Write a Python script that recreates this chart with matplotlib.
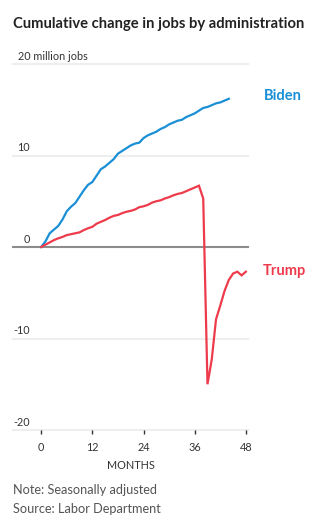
import matplotlib.pyplot as plt
import matplotlib.transforms as mtransforms

# Cumulative change in jobs, millions, by month since inauguration
biden_jobs = [0, 0.6, 1.5, 1.9, 2.3, 3.0, 3.9, 4.4, 4.8, 5.5, 6.2, 6.8, 7.1,
              7.8, 8.5, 8.8, 9.2, 9.6, 10.2, 10.5, 10.8, 11.1, 11.3, 11.4,
              11.9, 12.2, 12.4, 12.6, 12.9, 13.1, 13.4, 13.6, 13.8, 13.9,
              14.2, 14.4, 14.6, 14.9, 15.2, 15.3, 15.5, 15.7, 15.8, 16.0, 16.2]
trump_jobs = [0, 0.25, 0.5, 0.75, 0.95, 1.1, 1.3, 1.4, 1.5, 1.6, 1.85, 2.05,
              2.2, 2.55, 2.75, 2.95, 3.2, 3.4, 3.5, 3.7, 3.85, 3.95, 4.1,
              4.35, 4.45, 4.6, 4.85, 5.0, 5.1, 5.3, 5.45, 5.65, 5.8, 5.9,
              6.1, 6.3, 6.5, 6.7, 5.3, -15.0, -12.3, -7.9, -6.4, -4.8, -3.6,
              -2.9, -2.7, -3.1, -2.7]
biden_months = list(range(len(biden_jobs)))
trump_months = list(range(len(trump_jobs)))

x_ticks = [0, 12, 24, 36, 48]
y_ticks = [20, 10, 0, -10, -20]

blue = '#1a8fd6'
red = '#ee3b4b'
font = 'Lato'

W, H = 326, 524
fig = plt.figure(figsize=(W / 100, H / 100), dpi=100)
ax = fig.add_axes([13 / W, 1 - 430 / H, 235 / W, 366 / H])
ax.set_xlim(-6.6, 48.5)
ax.set_ylim(-20, 20)
for s in ax.spines.values():
    s.set_visible(False)

# gridlines, zero line darker
for y in y_ticks:
    if y == 0:
        ax.axhline(y, color='#8c8c8c', lw=1.5, zorder=1, clip_on=False)
    else:
        ax.axhline(y, color='#eeeeee', lw=1.5, zorder=0, clip_on=False)

ax.plot(trump_months, trump_jobs, color=red, lw=1.6, zorder=3,
        solid_joinstyle='miter')
ax.plot(biden_months, biden_jobs, color=blue, lw=1.6, zorder=2)

# y labels sit above the gridlines
trans = mtransforms.blended_transform_factory(fig.transFigure, ax.transData)
for y in y_ticks:
    if y == 20:
        ax.text(18 / W, y + 0.25, '20 million jobs', transform=trans,
                ha='left', va='bottom', fontsize=7.8, color='#333333',
                family=font)
    else:
        ax.text(30 / W, y + 0.25, f'{y}', transform=trans, ha='right',
                va='bottom', fontsize=7.8, color='#333333', family=font)

ax.set_yticks([])
ax.set_xticks(x_ticks)
ax.set_xticklabels([str(t) for t in x_ticks], family=font, fontsize=7.8,
                   color='#333333')
ax.tick_params(axis='x', length=3, width=1, color='#333333', pad=5.5)
ax.set_xlabel('MONTHS', family=font, fontsize=7.8, color='#333333',
              labelpad=5)

# series labels
ax.text(264 / W, 16.5, 'Biden', transform=trans, color=blue,
        fontsize=10.5, fontweight='bold', family=font, va='center')
ax.text(263 / W, -2.6, 'Trump', transform=trans, color=red,
        fontsize=10.5, fontweight='bold', family=font, va='center')

fig.text(13 / W, 1 - 24 / H, 'Cumulative change in jobs by administration',
         fontsize=10.6, fontweight='bold', family=font, color='#222222',
         va='center')
fig.text(13 / W, 1 - 490 / H, 'Note: Seasonally adjusted', fontsize=9.2,
         family=font, color='#555555', va='center')
fig.text(13 / W, 1 - 509 / H, 'Source: Labor Department', fontsize=9.2,
         family=font, color='#555555', va='center')

fig.savefig('out.png', dpi=100)
